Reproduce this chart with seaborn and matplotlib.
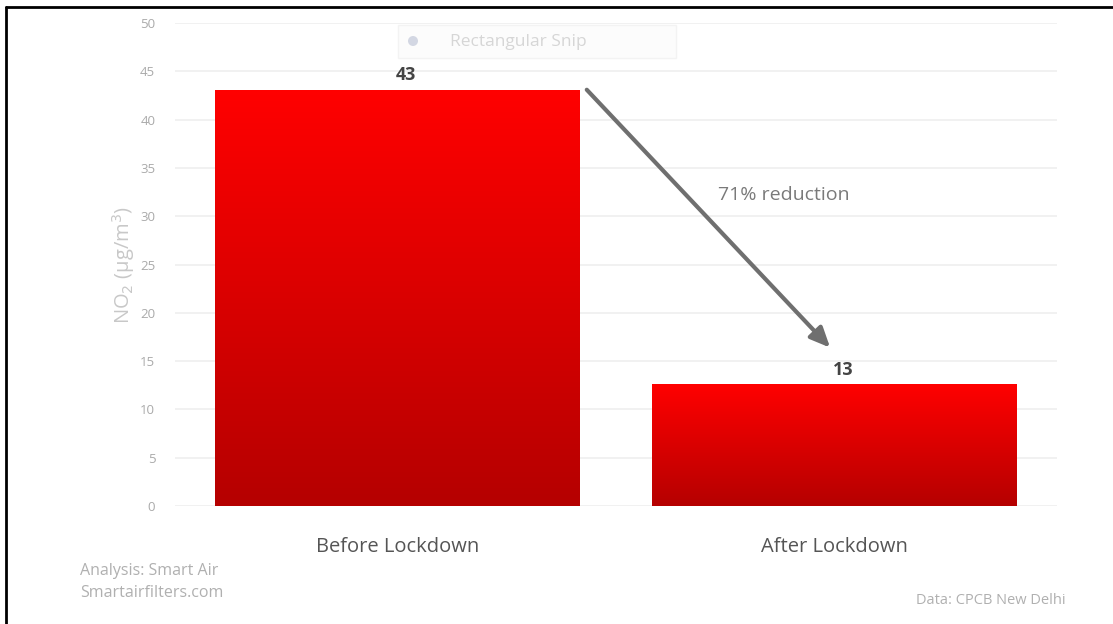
import matplotlib
matplotlib.use("Agg")
import matplotlib.pyplot as plt
import seaborn as sns
import numpy as np
import pandas as pd
from matplotlib.colors import LinearSegmentedColormap
from matplotlib.patches import FancyBboxPatch, Ellipse
from matplotlib.lines import Line2D

# NO2 concentration in New Delhi, before vs after lockdown
periods = ["Before Lockdown", "After Lockdown"]
no2_levels = [43.1, 12.6]
reduction_label = "71% reduction"
y_ticks = [0, 5, 10, 15, 20, 25, 30, 35, 40, 45, 50]

df = pd.DataFrame({"period": periods, "no2": no2_levels})

sns.set_theme(style="white")
plt.rcParams["font.family"] = ["Open Sans", "DejaVu Sans"]

fig = plt.figure(figsize=(11.13, 6.24), dpi=100)
ax = fig.add_axes([0.157, 0.189, 0.793, 0.774])

sns.barplot(data=df, x="period", y="no2", color="#e00000", width=0.835,
            ax=ax, zorder=2)

ax.set_xlim(-0.51, 1.51)
ax.set_ylim(0, 50)
ax.set_yticks(y_ticks)
ax.grid(axis="y", color="#efefef", linewidth=1.2, zorder=0)
ax.set_axisbelow(True)
for s in ax.spines.values():
    s.set_visible(False)

# vertical red gradient inside each bar
grad_cmap = LinearSegmentedColormap.from_list("redgrad", ["#b50000", "#ff0000"])
gradient = np.linspace(0, 1, 256).reshape(-1, 1)
for bar in ax.patches:
    x0, y0 = bar.get_x(), bar.get_y()
    w, h = bar.get_width(), bar.get_height()
    bar.set_facecolor("none")
    bar.set_edgecolor("none")
    im = ax.imshow(gradient, cmap=grad_cmap, aspect="auto", origin="lower",
                   extent=[x0, x0 + w, y0, y0 + h], zorder=3)
    im.set_clip_path(bar)
ax.set_xlim(-0.51, 1.51)
ax.set_ylim(0, 50)

# value labels above the bars
for i, v in enumerate(no2_levels):
    ax.text(i + 0.02, v + 0.6, f"{v:.0f}", ha="center", va="bottom",
            fontsize=13, fontweight="bold", color="#444444", zorder=5)

# reduction arrow
ax.annotate("", xy=(0.99, 16.4), xytext=(0.433, 43.1),
            arrowprops=dict(arrowstyle="-|>,head_length=1.0,head_width=0.45",
                            color="#6f6f6f", lw=3, shrinkA=0, shrinkB=0),
            zorder=6)
ax.text(0.885, 32.2, reduction_label, ha="center", va="center",
        fontsize=14, color="#7a7a7a", zorder=6)

ax.tick_params(axis="y", length=0, labelsize=9.5, labelcolor="#aaaaaa", pad=14)
ax.tick_params(axis="x", length=0, labelsize=14.5, labelcolor="#555555", pad=22)
ax.set_xlabel("")
ax.set_ylabel("NO$_2$ (µg/m$^3$)", fontsize=14.5, color="#c8c8c8", labelpad=2)

# snipping tool caption box
snip = FancyBboxPatch((398 / 1113, 1 - 58 / 624), 278 / 1113, 33 / 624,
                      boxstyle="square,pad=0", transform=fig.transFigure,
                      facecolor="#fbfbfb", edgecolor="#f0f0f0", lw=1, alpha=0.7,
                      zorder=10)
fig.patches.append(snip)
fig.patches.append(Ellipse((413 / 1113, 1 - 41 / 624), 10 / 1113, 10 / 624,
                           transform=fig.transFigure, facecolor="#d3d7e3",
                           edgecolor="none", zorder=11))
fig.text(450 / 1113, 1 - 42 / 624, "Rectangular Snip", fontsize=12.5,
         color="#d6d6d6", ha="left", va="center", zorder=11)

# source notes
fig.text(80 / 1113, 1 - 571 / 624, "Analysis: Smart Air", fontsize=11.5,
         color="#b0b0b0", ha="left", va="center")
fig.text(80 / 1113, 1 - 593 / 624, "Smartairfilters.com", fontsize=11.5,
         color="#b0b0b0", ha="left", va="center")
fig.text(1066 / 1113, 1 - 600 / 624, "Data: CPCB New Delhi", fontsize=10.5,
         color="#b0b0b0", ha="right", va="center")

# frame lines on the left and top edges
fig.add_artist(Line2D([6 / 1113, 6 / 1113], [0, 1 - 7 / 624],
                      transform=fig.transFigure, color="black", lw=2))
fig.add_artist(Line2D([6 / 1113, 1], [1 - 7 / 624, 1 - 7 / 624],
                      transform=fig.transFigure, color="black", lw=2))

fig.savefig("out.png", dpi=100, facecolor="white")
